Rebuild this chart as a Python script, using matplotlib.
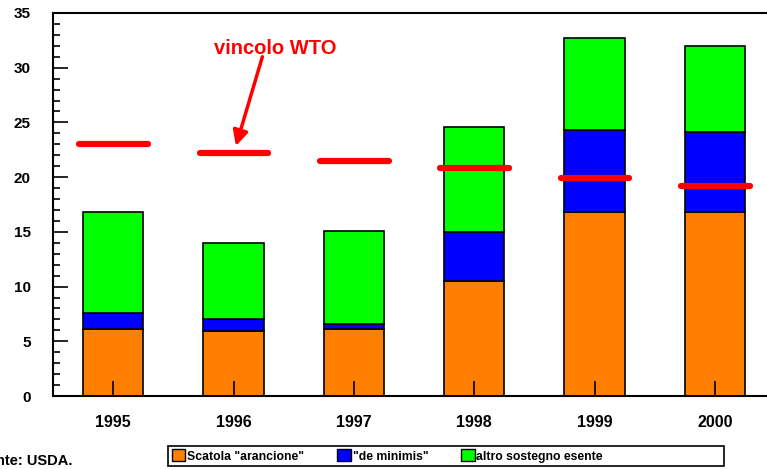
import matplotlib
matplotlib.use('Agg')
import matplotlib.pyplot as plt
from matplotlib.patches import Patch, Rectangle
from matplotlib.ticker import MultipleLocator

plt.rcParams['font.family'] = ['Liberation Sans', 'DejaVu Sans']
plt.rcParams['font.weight'] = 'bold'

# data (billion $)
years = ['1995', '1996', '1997', '1998', '1999', '2000']
arancione = [6.1, 5.95, 6.1, 10.5, 16.8, 16.8]
de_minimis = [1.5, 1.05, 0.5, 4.45, 7.5, 7.35]
altro = [9.2, 7.0, 8.5, 9.6, 8.45, 7.85]
vincolo_wto = [23.0, 22.25, 21.5, 20.8, 19.9, 19.15]

fig = plt.figure(figsize=(7.67, 4.69), dpi=100)
ax = fig.add_axes([53/767, 73/469, 722/767, 383/469])

x = list(range(len(years)))
bottom2 = [a + b for a, b in zip(arancione, de_minimis)]
ax.bar(x, arancione, width=0.5, color='#ff8000', edgecolor='black', linewidth=1.2)
ax.bar(x, de_minimis, width=0.5, bottom=arancione, color='#0000ff', edgecolor='black', linewidth=1.2)
ax.bar(x, altro, width=0.5, bottom=bottom2, color='#00ff00', edgecolor='black', linewidth=1.2)

# WTO limit lines
for xi, v in zip(x, vincolo_wto):
    ax.plot([xi - 0.28, xi + 0.29], [v, v], color='red', linewidth=4.5,
            solid_capstyle='round', zorder=5)

ax.annotate('', xy=(1.02, 22.85), xytext=(1.24, 31.0),
            arrowprops=dict(arrowstyle='-|>,head_width=0.45,head_length=0.9',
                            color='red', lw=2.5, shrinkA=0, shrinkB=0))
ax.text(1.345, 31.8, 'vincolo WTO', color='red', fontsize=14.5, fontweight='bold',
        ha='center', va='center')

ax.set_xlim(-0.5, 5.5)
ax.set_ylim(0, 35)
ax.set_xticks(x)
ax.set_xticklabels(years, fontsize=11.5, fontweight='bold')
ax.yaxis.set_major_locator(MultipleLocator(5))
ax.yaxis.set_minor_locator(MultipleLocator(1))
ax.tick_params(axis='y', which='major', direction='in', length=11, width=1.2, labelsize=11, pad=16)
ax.tick_params(axis='y', which='minor', direction='in', length=5, width=1.2)
ax.tick_params(axis='x', direction='in', length=11, width=1.2, pad=14)
for lbl in ax.get_yticklabels():
    lbl.set_fontweight('bold')
for s in ax.spines.values():
    s.set_linewidth(1.5)

# legend
fig.patches.append(Rectangle((168/767, 3/469), 556/767, 20/469, transform=fig.transFigure,
                             fill=False, edgecolor='black', linewidth=1.2))
handles = [Patch(facecolor='#ff8000', edgecolor='black', label='Scatola "arancione"'),
           Patch(facecolor='#0000ff', edgecolor='black', label='"de minimis"'),
           Patch(facecolor='#00ff00', edgecolor='black', label='altro sostegno esente')]
fig.legend(handles=handles, loc='center left', bbox_to_anchor=(161/767, 13/469), ncol=3,
           frameon=False, handlelength=1.1, handleheight=1.1, handletextpad=0.15,
           columnspacing=2.7, prop={'family': ['Liberation Sans Narrow', 'Liberation Sans'],
                                    'weight': 'bold', 'size': 8.8})

fig.text(-22/767, 1/469, 'Fonte: USDA.', fontsize=10.5, fontweight='bold', ha='left', va='bottom')

fig.savefig('out.png', dpi=100)
